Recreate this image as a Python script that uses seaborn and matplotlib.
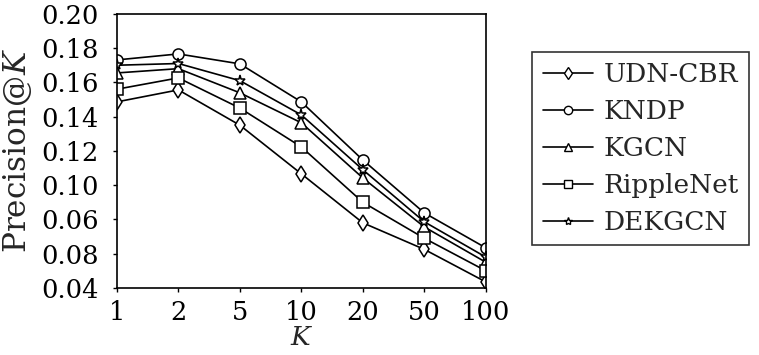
import pandas as pd
import matplotlib
matplotlib.use("Agg")
import matplotlib.pyplot as plt
import seaborn as sns

# valores
ks = ["1", "2", "5", "10", "20", "50", "100"]
udn_cbr = [0.1486, 0.1556, 0.1350, 0.1066, 0.0780, 0.0625, 0.0435]
kndp = [0.1731, 0.1766, 0.1708, 0.1486, 0.1147, 0.0838, 0.0634]
kgcn = [0.1655, 0.1680, 0.1539, 0.1364, 0.1042, 0.0756, 0.0550]
ripplenet = [0.1560, 0.1626, 0.1450, 0.1223, 0.0900, 0.0690, 0.0500]
dekgcn = [0.1700, 0.1710, 0.1610, 0.1410, 0.1090, 0.0786, 0.0580]
models = ["UDN-CBR", "KNDP", "KGCN", "RippleNet", "DEKGCN"]
y_ticks = [0.04, 0.06, 0.08, 0.10, 0.12, 0.14, 0.16, 0.18, 0.20]
y_tick_labels = ["0.04", "0.08", "0.06", "0.10", "0.12", "0.14", "0.16", "0.18", "0.20"]

series = [udn_cbr, kndp, kgcn, ripplenet, dekgcn]
rows = []
for name, vals in zip(models, series):
    for i, v in enumerate(vals):
        rows.append({"model": name, "pos": i, "value": v})
df = pd.DataFrame(rows)

sns.set_theme(style="white")
plt.rcParams["font.family"] = ["DejaVu Serif"]
plt.rcParams["mathtext.fontset"] = "dejavuserif"

fig = plt.figure(figsize=(7.59, 3.55), dpi=100)
ax = fig.add_axes([0.154, 0.189, 0.486, 0.772])

markers = {"UDN-CBR": "d", "KNDP": "o", "KGCN": "^", "RippleNet": "s", "DEKGCN": "*"}
sns.lineplot(
    data=df, x="pos", y="value", hue="model", style="model",
    hue_order=models, style_order=models,
    palette=["black"] * 5, markers=markers, dashes=False,
    linewidth=1.2, markersize=8, markerfacecolor="white",
    markeredgecolor="black", markeredgewidth=1.1, ax=ax, legend=False,
)

ax.set_xlim(0, len(ks) - 1)
ax.set_xticks(range(len(ks)))
ax.set_xticklabels(ks)
ax.set_ylim(0.04, 0.20)
ax.set_yticks(y_ticks)
ax.set_yticklabels(y_tick_labels)
ax.tick_params(axis="both", labelsize=18.5, direction="out", length=3, width=1,
               colors="black", left=True, bottom=True)
ax.tick_params(axis="y", pad=10)
ax.tick_params(axis="x", pad=6)
for s in ax.spines.values():
    s.set_color("black")
    s.set_linewidth(1.2)
ax.set_xlabel("$K$", fontsize=19, labelpad=0)
ax.set_ylabel("Precision@$K$", fontsize=22.5, labelpad=5)

handles = [
    plt.Line2D([], [], color="black", lw=1.2, marker=markers[m], markersize=6,
               markerfacecolor="white", markeredgecolor="black", markeredgewidth=1)
    for m in models
]
leg = fig.legend(handles, models, loc="upper left", bbox_to_anchor=(0.701, 0.854),
                 fontsize=19, frameon=True, fancybox=False, handlelength=1.9,
                 handletextpad=0.4, borderpad=0.4, labelspacing=0.45,
                 borderaxespad=0)
leg.get_frame().set_edgecolor("black")
leg.get_frame().set_linewidth(1.2)

fig.savefig("out.png", dpi=100)
